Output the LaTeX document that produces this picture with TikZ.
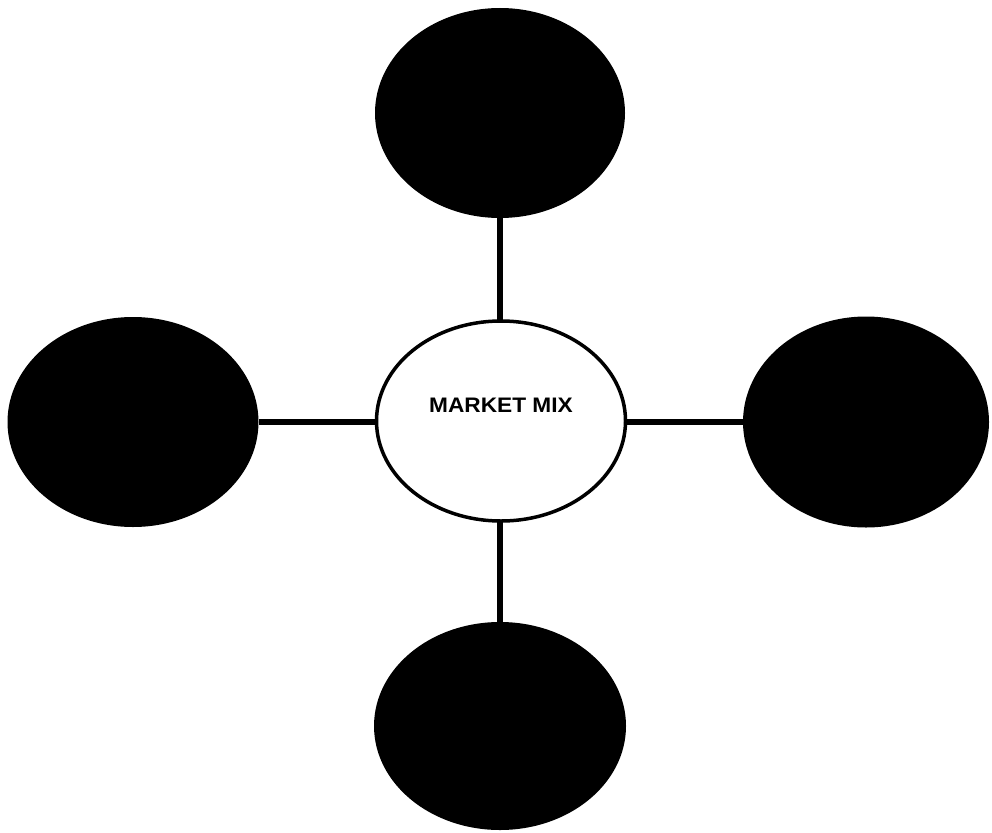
\documentclass[tikz,border=0pt]{standalone}
\usepackage{fontspec}
\setmainfont{Liberation Sans}
\usetikzlibrary{shapes.geometric}
\begin{document}
\begin{tikzpicture}[x=1pt,y=-1pt,
  blackoval/.style={ellipse,fill=black,inner sep=0pt,draw=none},
  centeroval/.style={ellipse,draw=black,line width=3.5pt,fill=white,inner sep=0pt,minimum width=249pt,minimum height=200pt},
  link/.style={line width=6pt,draw=black},
  lbl/.style={font=\bfseries\fontsize{21}{24}\selectfont,inner sep=0pt}]
\useasboundingbox (0,0) rectangle (992,832);
\fill[white] (0,0) rectangle (992,832);
\node[blackoval,minimum width=250pt,minimum height=210pt] (top) at (500,113) {};
\node[blackoval,minimum width=251pt,minimum height=210pt] (left) at (133,422) {};
\node[blackoval,minimum width=246pt,minimum height=211pt] (right) at (866,422) {};
\node[blackoval,minimum width=252pt,minimum height=208pt] (bottom) at (500,726) {};
\draw[link] (top) -- (500,421);
\draw[link] (bottom) -- (500,421);
\draw[link] (left) -- (866,422);
\node[centeroval] (mix) at (501,421) {};
\node[lbl,xscale=1.08] (mixtext) at (501,405) {MARKET MIX};
\end{tikzpicture}
\end{document}
